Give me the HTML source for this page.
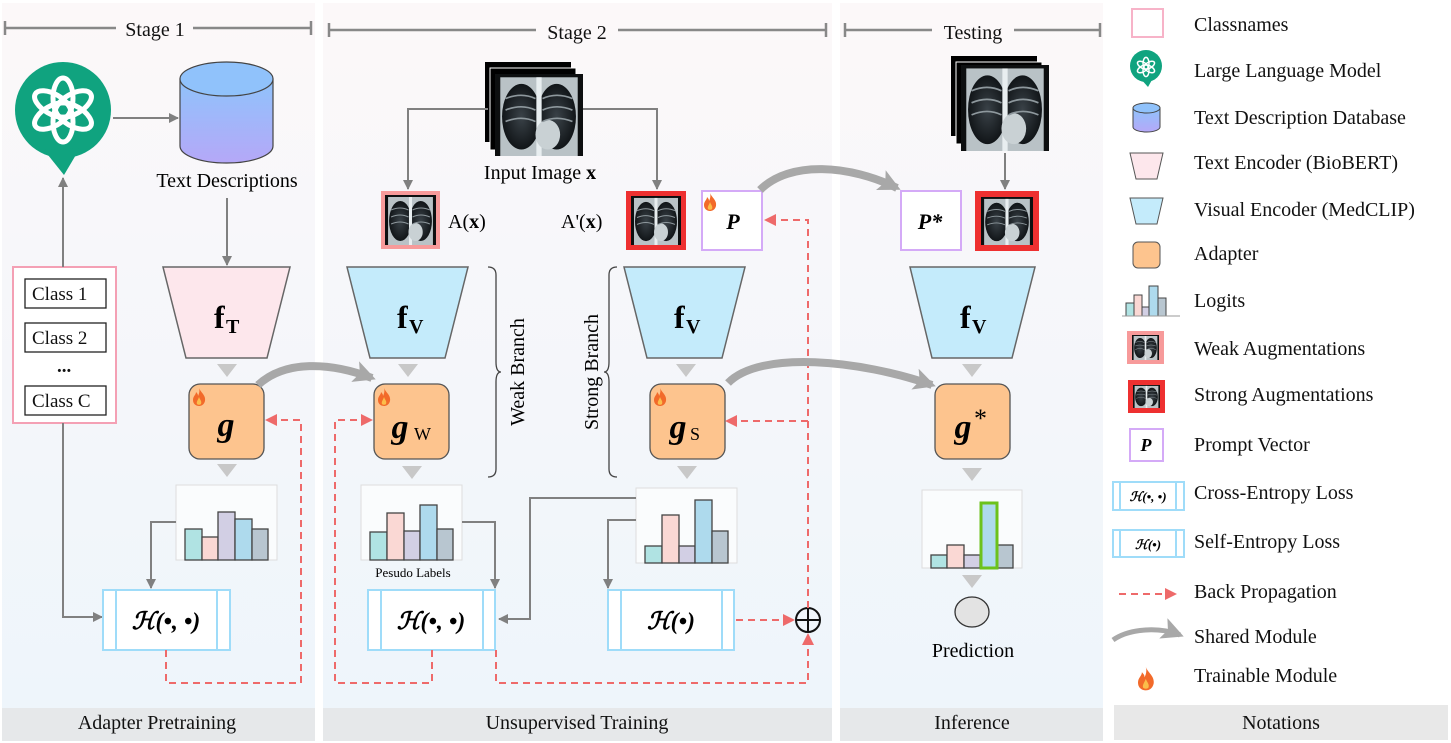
<!DOCTYPE html>
<html><head><meta charset="utf-8"><style>
html,body{margin:0;padding:0;background:#fff;}
svg{display:block;font-family:"Liberation Serif",serif;}
</style></head><body>
<svg width="1451" height="743" viewBox="0 0 1451 743" xmlns="http://www.w3.org/2000/svg">
<defs>
<linearGradient id="pg" x1="0" y1="0" x2="0" y2="1"><stop offset="0" stop-color="#fcf8f9"/><stop offset="1" stop-color="#eef5fb"/></linearGradient>
<linearGradient id="cyl" x1="0" y1="0" x2="0" y2="1"><stop offset="0" stop-color="#8fc3fb"/><stop offset="1" stop-color="#b5a8f8"/></linearGradient>
<radialGradient id="lung" cx="0.5" cy="0.5" r="0.5"><stop offset="0" stop-color="#3a4248"/><stop offset="1" stop-color="#111518"/></radialGradient>
<marker id="ag" markerWidth="10" markerHeight="10" refX="9" refY="5" orient="auto" markerUnits="userSpaceOnUse"><path d="M0,0 L10,5 L0,10 Z" fill="#808080"/></marker>
<marker id="ar" markerWidth="12" markerHeight="12" refX="11" refY="6" orient="auto" markerUnits="userSpaceOnUse"><path d="M0,0 L12,6 L0,12 Z" fill="#ee6a6a"/></marker>
<marker id="as" markerWidth="22" markerHeight="22" refX="18" refY="11" orient="auto" markerUnits="userSpaceOnUse"><path d="M0,0 L22,11 L0,22 L5,11 Z" fill="#a8a8a8"/></marker>
<g id="xr">
<rect x="0" y="0" width="100" height="100" fill="#0d0f10"/>
<rect x="6" y="4" width="88" height="96" fill="#b9c2c6"/>
<ellipse cx="30" cy="52" rx="22" ry="40" fill="url(#lung)"/>
<ellipse cx="70" cy="52" rx="22" ry="40" fill="url(#lung)"/>
<rect x="47" y="4" width="6" height="96" fill="#e8eef0"/>
<ellipse cx="60" cy="74" rx="14" ry="18" fill="#c9d1d4"/>
<path d="M12,30 Q30,22 46,30 M12,44 Q30,36 46,44 M12,58 Q30,50 46,58 M54,30 Q70,22 88,30 M54,44 Q70,36 88,44 M54,58 Q70,50 88,58" stroke="#8e989d" stroke-width="2" fill="none"/>
</g>
<g id="flame"><path d="M6,0 C8,5 13,7 12,13 C11,17 8,18 6,18 C3,18 0,16 0,12 C0,8 3,7 3,4 C5,6 5,7 5,8 C6,6 7,3 6,0Z" fill="#f26a2a"/><path d="M6,9 C7,12 9,13 8,16 C7,17 5,17 4,16 C3,14 5,12 6,9Z" fill="#fbbd4a"/></g>
<g id="gpt"><g fill="none" stroke="#fff" stroke-width="5">
<ellipse cx="0" cy="-12" rx="10" ry="20"/>
<ellipse cx="0" cy="-12" rx="10" ry="20" transform="rotate(60)"/>
<ellipse cx="0" cy="-12" rx="10" ry="20" transform="rotate(120)"/>
<ellipse cx="0" cy="-12" rx="10" ry="20" transform="rotate(180)"/>
<ellipse cx="0" cy="-12" rx="10" ry="20" transform="rotate(240)"/>
<ellipse cx="0" cy="-12" rx="10" ry="20" transform="rotate(300)"/>
</g></g>
</defs>

<!-- panels -->
<rect x="2" y="3" width="313" height="705" fill="url(#pg)"/>
<rect x="323" y="3" width="509" height="705" fill="url(#pg)"/>
<rect x="840" y="3" width="263" height="705" fill="url(#pg)"/>
<rect x="2" y="708" width="313" height="33" fill="#e6e8ea"/>
<rect x="323" y="708" width="509" height="33" fill="#e6e8ea"/>
<rect x="840" y="708" width="263" height="33" fill="#e6e8ea"/>
<rect x="1114" y="705" width="334" height="35" fill="#e8e8e8"/>
<g font-size="20" text-anchor="middle" fill="#111">
<text x="157" y="729">Adapter Pretraining</text>
<text x="577" y="729">Unsupervised Training</text>
<text x="972" y="729">Inference</text>
<text x="1281" y="729">Notations</text>
</g>

<!-- headers -->
<g stroke="#888" stroke-width="2.5">
<line x1="5" y1="28" x2="116" y2="28"/><line x1="193" y1="28" x2="311" y2="28"/>
<line x1="5" y1="21" x2="5" y2="35"/><line x1="311" y1="21" x2="311" y2="35"/>
<line x1="329" y1="30" x2="536" y2="30"/><line x1="618" y1="30" x2="826" y2="30"/>
<line x1="329" y1="23" x2="329" y2="37"/><line x1="826" y1="23" x2="826" y2="37"/>
<line x1="845" y1="30" x2="932" y2="30"/><line x1="1014" y1="30" x2="1100" y2="30"/>
<line x1="845" y1="23" x2="845" y2="37"/><line x1="1100" y1="23" x2="1100" y2="37"/>
</g>
<g font-size="20" text-anchor="middle" fill="#111">
<text x="155" y="36">Stage 1</text><text x="577" y="39">Stage 2</text><text x="973" y="39">Testing</text>
</g>

<!-- STAGE 1 -->
<circle cx="63" cy="110" r="48" fill="#10a37f"/>
<path d="M44,150 L64,175 L80,148 Z" fill="#10a37f"/>
<g transform="translate(63,110)"><use href="#gpt"/></g>
<line x1="113" y1="118" x2="178" y2="118" stroke="#808080" stroke-width="2" marker-end="url(#ag)"/>
<path d="M180,79 L180,146 A46.5,17 0 0 0 273,146 L273,79 Z" fill="url(#cyl)" stroke="#444" stroke-width="1.2"/>
<ellipse cx="226.5" cy="79" rx="46.5" ry="17" fill="#90c2fb" stroke="#444" stroke-width="1.2"/>
<text x="227" y="187" font-size="20" text-anchor="middle">Text Descriptions</text>
<line x1="227" y1="198" x2="227" y2="265" stroke="#808080" stroke-width="2" marker-end="url(#ag)"/>
<polygon points="163,267 290,267 267,358 186,358" fill="#fde7ec" stroke="#666" stroke-width="1.5"/>
<text x="214" y="328" font-size="32" font-weight="bold">f</text><text x="226" y="333" font-size="20" font-weight="bold">T</text>
<polygon points="217,364 237,364 227,377" fill="#c8c8c8"/>
<rect x="189" y="384" width="75" height="75" rx="11" fill="#fdc48e" stroke="#555" stroke-width="1.3"/>
<use href="#flame" x="193" y="388"/>
<text x="226" y="436" font-size="34" font-style="italic" font-weight="bold" text-anchor="middle">g</text>
<polygon points="217,464 237,464 227,477" fill="#c8c8c8"/>
<rect x="176" y="485" width="101" height="75" fill="#fafcfd" stroke="#ddd"/>
<g stroke="#444" stroke-width="1.3">
<rect x="185" y="529" width="17" height="31" fill="#b0e3e3"/><rect x="202" y="537" width="16" height="23" fill="#fad8d4"/>
<rect x="218" y="512" width="17" height="48" fill="#d2cfe4"/><rect x="235" y="519" width="17" height="41" fill="#aedaed"/>
<rect x="252" y="529" width="16" height="31" fill="#b8c6d0"/></g>
<rect x="13" y="267" width="103" height="156" fill="#fff" stroke="#f4a0b4" stroke-width="2"/>
<g font-size="19" fill="#111">
<rect x="25" y="279" width="81" height="29" fill="#fff" stroke="#222" stroke-width="1.3"/><text x="32" y="300">Class 1</text>
<rect x="25" y="323" width="81" height="29" fill="#fff" stroke="#222" stroke-width="1.3"/><text x="32" y="344">Class 2</text>
<text x="57" y="372" font-weight="bold">...</text>
<rect x="25" y="386" width="81" height="29" fill="#fff" stroke="#222" stroke-width="1.3"/><text x="32" y="407">Class C</text>
</g>
<line x1="63" y1="267" x2="63" y2="178" stroke="#808080" stroke-width="2" marker-end="url(#ag)"/>
<polyline points="63,423 63,617 102,617" fill="none" stroke="#808080" stroke-width="2" marker-end="url(#ag)"/>
<polyline points="176,522 151,522 151,588" fill="none" stroke="#808080" stroke-width="2" marker-end="url(#ag)"/>
<g stroke="#9fdcf9" stroke-width="2" fill="#fff"><rect x="103" y="590" width="127" height="60"/><line x1="116" y1="590" x2="116" y2="650"/><line x1="217" y1="590" x2="217" y2="650"/></g>
<text x="166" y="629" font-size="24" font-style="italic" font-weight="bold" text-anchor="middle">ℋ(•, •)</text>
<polyline points="166,650 166,683 301,683 301,420 266,420" fill="none" stroke="#ee6a6a" stroke-width="2" stroke-dasharray="7,5" marker-end="url(#ar)"/>
<path d="M258,385 C285,360 330,362 372,378" fill="none" stroke="#a8a8a8" stroke-width="8" marker-end="url(#as)"/>

<!-- STAGE 2 -->
<rect x="485" y="62" width="86" height="80" fill="#000"/>
<rect x="490" y="68" width="86" height="82" fill="#000" stroke="#fff" stroke-width="1"/>
<use href="#xr" transform="translate(495,74) scale(0.88,0.82)"/>
<text x="540" y="179" font-size="20" text-anchor="middle">Input Image <tspan font-weight="bold">x</tspan></text>
<polyline points="488,109 408,109 408,189" fill="none" stroke="#808080" stroke-width="2" marker-end="url(#ag)"/>
<polyline points="583,109 657,109 657,189" fill="none" stroke="#808080" stroke-width="2" marker-end="url(#ag)"/>
<rect x="381" y="191" width="59" height="58" fill="#f79a9a"/><use href="#xr" transform="translate(385,195) scale(0.51,0.5)"/>
<text x="448" y="228" font-size="20">A(<tspan font-weight="bold">x</tspan>)</text>
<text x="561" y="228" font-size="20">A'(<tspan font-weight="bold">x</tspan>)</text>
<rect x="626" y="191" width="60" height="59" fill="#ee3030"/><use href="#xr" transform="translate(631,196) scale(0.5,0.49)"/>
<rect x="702" y="191" width="60" height="59" fill="#fff" stroke="#d4aaf7" stroke-width="2"/>
<use href="#flame" x="704" y="193"/>
<text x="733" y="229" font-size="22" font-style="italic" font-weight="bold" text-anchor="middle">P</text>
<!-- weak -->
<polygon points="347,267 468,267 445,358 370,358" fill="#c4ebfb" stroke="#666" stroke-width="1.5"/>
<text x="397" y="328" font-size="32" font-weight="bold">f</text><text x="409" y="333" font-size="20" font-weight="bold">V</text>
<polygon points="398,364 418,364 408,377" fill="#c8c8c8"/>
<rect x="374" y="384" width="75" height="75" rx="11" fill="#fdc48e" stroke="#555" stroke-width="1.3"/>
<use href="#flame" x="378" y="388"/>
<text x="400" y="438" font-size="34" font-style="italic" font-weight="bold" text-anchor="middle">g</text><text x="414" y="440" font-size="18">W</text>
<polygon points="402,466 422,466 412,479" fill="#c8c8c8"/>
<rect x="361" y="485" width="101" height="75" fill="#fafcfd" stroke="#ddd"/>
<g stroke="#444" stroke-width="1.3">
<rect x="370" y="532" width="17" height="28" fill="#b0e3e3"/><rect x="387" y="513" width="17" height="47" fill="#fad8d4"/>
<rect x="404" y="531" width="16" height="29" fill="#d2cfe4"/><rect x="420" y="505" width="17" height="55" fill="#aedaed"/>
<rect x="437" y="529" width="16" height="31" fill="#b8c6d0"/></g>
<text x="413" y="577" font-size="13" text-anchor="middle">Pesudo Labels</text>
<polyline points="462,522 495,522 495,588" fill="none" stroke="#808080" stroke-width="2" marker-end="url(#ag)"/>
<g stroke="#9fdcf9" stroke-width="2" fill="#fff"><rect x="368" y="590" width="127" height="60"/><line x1="381" y1="590" x2="381" y2="650"/><line x1="483" y1="590" x2="483" y2="650"/></g>
<text x="431" y="629" font-size="24" font-style="italic" font-weight="bold" text-anchor="middle">ℋ(•, •)</text>
<path d="M488,267 Q496,267 496,275 L496,362 Q496,372 501,372 Q496,372 496,382 L496,469 Q496,477 488,477" fill="none" stroke="#444" stroke-width="1.3"/>
<text transform="translate(524,372) rotate(-90)" font-size="20" text-anchor="middle">Weak Branch</text>
<path d="M617,267 Q609,267 609,275 L609,362 Q609,372 604,372 Q609,372 609,382 L609,469 Q609,477 617,477" fill="none" stroke="#444" stroke-width="1.3"/>
<text transform="translate(598,372) rotate(-90)" font-size="20" text-anchor="middle">Strong Branch</text>
<!-- strong -->
<polygon points="624,267 745,267 722,358 647,358" fill="#c4ebfb" stroke="#666" stroke-width="1.5"/>
<text x="674" y="328" font-size="32" font-weight="bold">f</text><text x="686" y="333" font-size="20" font-weight="bold">V</text>
<polygon points="676,364 696,364 686,377" fill="#c8c8c8"/>
<rect x="650" y="384" width="75" height="75" rx="11" fill="#fdc48e" stroke="#555" stroke-width="1.3"/>
<use href="#flame" x="654" y="388"/>
<text x="678" y="438" font-size="34" font-style="italic" font-weight="bold" text-anchor="middle">g</text><text x="690" y="440" font-size="18">S</text>
<polygon points="677,466 697,466 687,479" fill="#c8c8c8"/>
<rect x="636" y="488" width="101" height="75" fill="#fafcfd" stroke="#ddd"/>
<g stroke="#444" stroke-width="1.3">
<rect x="645" y="546" width="17" height="17" fill="#b0e3e3"/><rect x="662" y="515" width="17" height="48" fill="#fad8d4"/>
<rect x="679" y="546" width="16" height="17" fill="#d2cfe4"/><rect x="695" y="500" width="17" height="63" fill="#aedaed"/>
<rect x="712" y="531" width="16" height="32" fill="#b8c6d0"/></g>
<polyline points="636,498 530,498 530,619 499,619" fill="none" stroke="#808080" stroke-width="2" marker-end="url(#ag)"/>
<polyline points="636,520 608,520 608,588" fill="none" stroke="#808080" stroke-width="2" marker-end="url(#ag)"/>
<g stroke="#9fdcf9" stroke-width="2" fill="#fff"><rect x="608" y="590" width="126" height="60"/><line x1="621" y1="590" x2="621" y2="650"/><line x1="722" y1="590" x2="722" y2="650"/></g>
<text x="671" y="629" font-size="24" font-style="italic" font-weight="bold" text-anchor="middle">ℋ(•)</text>
<line x1="736" y1="620" x2="794" y2="620" stroke="#ee6a6a" stroke-width="2" stroke-dasharray="7,5" marker-end="url(#ar)"/>
<circle cx="808" cy="620" r="12" fill="none" stroke="#111" stroke-width="2"/>
<line x1="796" y1="620" x2="820" y2="620" stroke="#111" stroke-width="2"/><line x1="808" y1="608" x2="808" y2="632" stroke="#111" stroke-width="2"/>
<polyline points="496,650 496,683 808,683 808,634" fill="none" stroke="#ee6a6a" stroke-width="2" stroke-dasharray="7,5" marker-end="url(#ar)"/>
<polyline points="432,650 432,683 335,683 335,420 372,420" fill="none" stroke="#ee6a6a" stroke-width="2" stroke-dasharray="7,5" marker-end="url(#ar)"/>
<polyline points="808,608 808,220 765,220" fill="none" stroke="#ee6a6a" stroke-width="2" stroke-dasharray="7,5" marker-end="url(#ar)"/>
<line x1="808" y1="421" x2="726" y2="421" stroke="#ee6a6a" stroke-width="2" stroke-dasharray="7,5" marker-end="url(#ar)"/>
<path d="M760,190 C790,160 850,165 897,188" fill="none" stroke="#a8a8a8" stroke-width="8" marker-end="url(#as)"/>
<path d="M728,383 C760,350 860,360 932,385" fill="none" stroke="#a8a8a8" stroke-width="8" marker-end="url(#as)"/>

<!-- TESTING -->
<rect x="951" y="56" width="86" height="80" fill="#000"/>
<rect x="956" y="62" width="86" height="82" fill="#000" stroke="#fff" stroke-width="1"/>
<use href="#xr" transform="translate(961,65) scale(0.88,0.86)"/>
<line x1="1005" y1="153" x2="1005" y2="189" stroke="#808080" stroke-width="2" marker-end="url(#ag)"/>
<rect x="901" y="191" width="60" height="59" fill="#fff" stroke="#d4aaf7" stroke-width="2"/>
<text x="930" y="229" font-size="22" font-style="italic" font-weight="bold" text-anchor="middle">P*</text>
<rect x="975" y="191" width="64" height="60" fill="#ee3030"/><use href="#xr" transform="translate(981,197) scale(0.52,0.48)"/>
<polygon points="910,267 1035,267 1012,358 932,358" fill="#c4ebfb" stroke="#666" stroke-width="1.5"/>
<text x="960" y="328" font-size="32" font-weight="bold">f</text><text x="972" y="333" font-size="20" font-weight="bold">V</text>
<polygon points="962,364 982,364 972,377" fill="#c8c8c8"/>
<rect x="935" y="384" width="75" height="75" rx="11" fill="#fdc48e" stroke="#555" stroke-width="1.3"/>
<text x="963" y="438" font-size="34" font-style="italic" font-weight="bold" text-anchor="middle">g</text><text x="974" y="427" font-size="26">*</text>
<polygon points="962,468 982,468 972,481" fill="#c8c8c8"/>
<rect x="922" y="490" width="100" height="78" fill="#fafcfd" stroke="#ddd"/>
<g stroke="#444" stroke-width="1.3">
<rect x="931" y="555" width="16" height="13" fill="#b0e3e3"/><rect x="947" y="545" width="17" height="23" fill="#fad8d4"/>
<rect x="964" y="555" width="16" height="13" fill="#d2cfe4"/>
<rect x="997" y="545" width="16" height="23" fill="#b8c6d0"/></g>
<rect x="981" y="503" width="16" height="65" fill="#aedaed" stroke="#6cc21c" stroke-width="3"/>
<polygon points="962,575 982,575 972,588" fill="#c8c8c8"/>
<ellipse cx="972" cy="612" rx="17" ry="15" fill="#e3e3e3" stroke="#333" stroke-width="1.3"/>
<text x="973" y="657" font-size="20" text-anchor="middle">Prediction</text>

<!-- LEGEND -->
<rect x="1132" y="9" width="31" height="28" fill="#fff" stroke="#f7b3c8" stroke-width="2"/>
<circle cx="1146" cy="66" r="16" fill="#10a37f"/><path d="M1140,78 L1148,87 L1153,78Z" fill="#10a37f"/>
<g transform="translate(1146,67) scale(0.3)"><use href="#gpt"/></g>
<path d="M1133,108 V127 A13.5,5 0 0 0 1160,127 V108 Z" fill="url(#cyl)" stroke="#444"/>
<ellipse cx="1146.5" cy="108" rx="13.5" ry="5" fill="#90c2fb" stroke="#444"/>
<polygon points="1130,153 1163,153 1157,179 1136,179" fill="#fde7ec" stroke="#555"/>
<polygon points="1130,198 1163,198 1157,224 1136,224" fill="#c4ebfb" stroke="#555"/>
<rect x="1133" y="242" width="27" height="26" rx="5" fill="#fdc48e" stroke="#555"/>
<g stroke="#444" stroke-width="1"><rect x="1126" y="303" width="8" height="13" fill="#b0e3e3"/><rect x="1134" y="295" width="8" height="21" fill="#fad8d4"/><rect x="1142" y="307" width="7" height="9" fill="#d2cfe4"/><rect x="1149" y="286" width="9" height="30" fill="#aedaed"/><rect x="1158" y="298" width="8" height="18" fill="#b8c6d0"/></g>
<line x1="1122" y1="316" x2="1180" y2="316" stroke="#999"/>
<rect x="1127" y="331" width="37" height="33" fill="#f79a9a"/><use href="#xr" transform="translate(1132,335) scale(0.27,0.25)"/>
<rect x="1128" y="380" width="37" height="33" fill="#ee3030"/><use href="#xr" transform="translate(1133,385) scale(0.27,0.23)"/>
<rect x="1130" y="429" width="33" height="32" fill="#fff" stroke="#d4aaf7" stroke-width="2"/>
<text x="1146" y="451" font-size="18" font-style="italic" font-weight="bold" text-anchor="middle">P</text>
<g stroke="#9fdcf9" stroke-width="2" fill="#fff">
<rect x="1113" y="482" width="71" height="28"/><line x1="1120" y1="482" x2="1120" y2="510"/><line x1="1176" y1="482" x2="1176" y2="510"/>
<rect x="1113" y="530" width="71" height="27"/><line x1="1120" y1="530" x2="1120" y2="557"/><line x1="1176" y1="530" x2="1176" y2="557"/></g>
<text x="1148" y="501" font-size="13" font-style="italic" font-weight="bold" text-anchor="middle">ℋ(•, •)</text>
<text x="1148" y="549" font-size="13" font-style="italic" font-weight="bold" text-anchor="middle">ℋ(•)</text>
<line x1="1119" y1="594" x2="1176" y2="594" stroke="#ee6a6a" stroke-width="2" stroke-dasharray="7,5" marker-end="url(#ar)"/>
<path d="M1113,640 C1130,628 1160,627 1180,635" fill="none" stroke="#a8a8a8" stroke-width="5" marker-end="url(#as)"/>
<use href="#flame" transform="translate(1138,667) scale(1.3)"/>
<g font-size="20" fill="#111">
<text x="1194" y="31">Classnames</text>
<text x="1194" y="77">Large Language Model</text>
<text x="1194" y="124">Text Description Database</text>
<text x="1194" y="169">Text Encoder (BioBERT)</text>
<text x="1194" y="216">Visual Encoder (MedCLIP)</text>
<text x="1194" y="260">Adapter</text>
<text x="1194" y="307">Logits</text>
<text x="1194" y="355">Weak Augmentations</text>
<text x="1194" y="401">Strong Augmentations</text>
<text x="1194" y="451">Prompt Vector</text>
<text x="1194" y="499">Cross-Entropy Loss</text>
<text x="1194" y="548">Self-Entropy Loss</text>
<text x="1194" y="598">Back Propagation</text>
<text x="1194" y="643">Shared Module</text>
<text x="1194" y="682">Trainable Module</text>
</g>
</svg>
</body></html>
